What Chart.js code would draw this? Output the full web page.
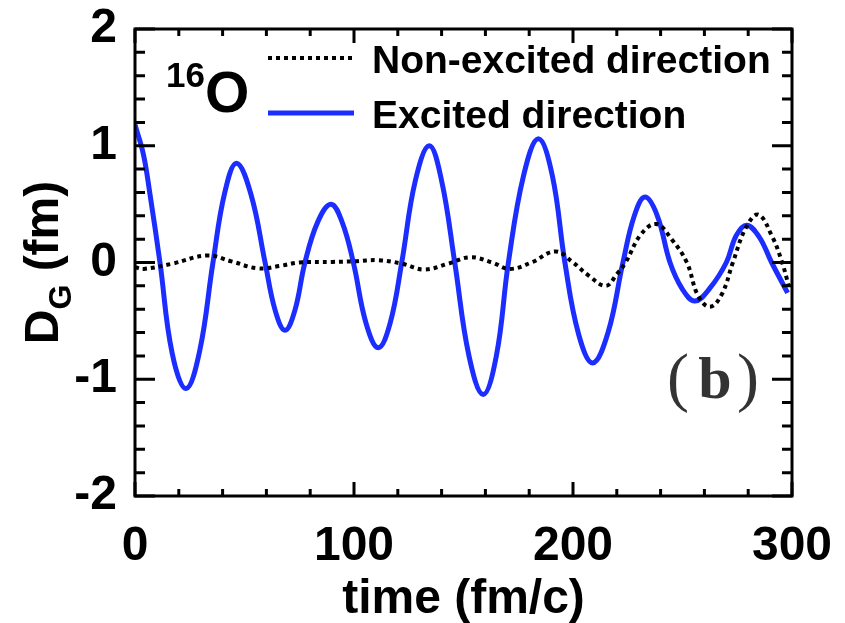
<!DOCTYPE html>
<html>
<head>
<meta charset="utf-8">
<script src="https://cdn.jsdelivr.net/npm/chart.js@4.4.1/dist/chart.umd.min.js"></script>
<style>
  html, body { margin: 0; padding: 0; background: #fff; }
  #wrap { width: 845px; height: 623px; }
</style>
</head>
<body>
<div id="wrap"><canvas id="dgChart" width="845" height="623"></canvas></div>
<script>
// values (time in fm/c, D_G in fm)
const excitedTimes = [0, 3.8, 6.8, 11.4, 17, 23.3, 29.5, 35.6, 41, 46.4, 53, 59.4, 64, 68.5, 73, 77.6, 83.5, 89.5, 94.5, 99.7,
  105.5, 111.1, 116.5, 121.8, 128, 134.4, 140, 146, 152.5, 159, 165, 170.5, 177.5, 184.2, 190.5, 196.3,
  202.5, 209, 216, 222.8, 228, 232.9, 238.5, 244.3, 250, 255.7, 262.5, 270, 274.5, 279.3, 285, 290.7, 298];
const excitedValues = [1.18, 0.93, 0.59, 0, -0.78, -1.08, -0.76, 0, 0.6, 0.85, 0.58, 0, -0.41, -0.58, -0.41, 0, 0.35, 0.50, 0.35, 0,
  -0.52, -0.73, -0.52, 0, 0.7, 1.0, 0.7, 0, -0.8, -1.13, -0.8, 0, 0.75, 1.06, 0.75, 0,
  -0.61, -0.86, -0.6, 0, 0.4, 0.56, 0.4, 0, -0.23, -0.33, -0.22, 0, 0.23, 0.32, 0.22, 0, -0.26];

const nonExcitedTimes = [0, 4, 17, 33, 44, 56, 66, 75, 90, 100, 111, 122, 132, 143, 153, 163, 171, 181, 192,
  200, 207, 215, 220, 224, 231, 238, 245, 252, 257, 262.5, 268, 273, 279, 284.6, 291, 295.5, 298.5];
const nonExcitedValues = [-0.04, -0.055, -0.01, 0.06, 0.01, -0.05, -0.03, 0, 0.005, 0.01, 0.02, -0.01, -0.06, -0.01, 0.045, 0, -0.055, 0, 0.095,
  0, -0.11, -0.2, -0.1, 0, 0.24, 0.33, 0.2, 0, -0.28, -0.38, -0.27, 0, 0.3, 0.41, 0.22, 0, -0.2];

const xTickLabels = [0, 100, 200, 300];
const yTickLabels = [-2, -1, 0, 1, 2];

const blue = '#1c2dff';
const sans = '"Liberation Sans", Arial, sans-serif';
const boldFont = 'bold 48px ' + sans;

// frame, inner ticks, legend and annotations
const decorations = {
  id: 'decorations',
  afterDraw(chart) {
    const ctx = chart.ctx;
    const a = chart.chartArea;
    const xs = chart.scales.x, ys = chart.scales.y;
    ctx.save();
    ctx.strokeStyle = '#000';
    ctx.lineWidth = 3;
    ctx.lineCap = 'butt';
    ctx.beginPath();
    // x ticks every 20, major every 100
    for (let t = 0; t <= 300; t += 20) {
      const px = xs.getPixelForValue(t);
      const len = t % 100 === 0 ? 14 : 7;
      ctx.moveTo(px, a.bottom); ctx.lineTo(px, a.bottom - len);
      ctx.moveTo(px, a.top); ctx.lineTo(px, a.top + len);
    }
    // y ticks every 0.2, major every 1
    for (let i = -10; i <= 10; i++) {
      const py = ys.getPixelForValue(i / 5);
      const len = i % 5 === 0 ? 20 : 10;
      ctx.moveTo(a.left, py); ctx.lineTo(a.left + len, py);
      ctx.moveTo(a.right, py); ctx.lineTo(a.right - len, py);
    }
    ctx.stroke();
    ctx.strokeRect(a.left, a.top, a.right - a.left, a.bottom - a.top);

    // legend
    const ds = chart.data.datasets;
    const legendRows = [{ ds: ds[0], y: 58, textY: 73 }, { ds: ds[1], y: 113, textY: 128 }];
    legendRows.forEach(r => {
      ctx.beginPath();
      ctx.strokeStyle = r.ds.borderColor;
      ctx.lineWidth = r.ds.borderWidth;
      ctx.setLineDash(r.ds.borderDash || []);
      ctx.moveTo(268, r.y); ctx.lineTo(354, r.y);
      ctx.stroke();
      ctx.setLineDash([]);
      ctx.fillStyle = '#000';
      ctx.font = 'bold 39px ' + sans;
      ctx.textAlign = 'left';
      ctx.textBaseline = 'alphabetic';
      ctx.fillText(r.ds.label, 372, r.textY);
    });

    // nucleus label
    ctx.fillStyle = '#000';
    ctx.font = 'bold 35px ' + sans;
    ctx.fillText('16', 166, 87);
    ctx.font = 'bold 57px ' + sans;
    ctx.fillText('O', 205, 112);

    // panel label
    const serif = '"Liberation Serif", "Times New Roman", serif';
    ctx.fillStyle = '#333';
    ctx.font = '66px ' + serif;
    ctx.textAlign = 'left';
    ctx.fillText('(', 667, 399);
    ctx.textAlign = 'right';
    ctx.fillText(')', 759, 399);
    ctx.font = 'bold 60px ' + serif;
    ctx.textAlign = 'center';
    ctx.fillText('b', 715, 398);

    // y axis title with subscript
    ctx.save();
    ctx.translate(58, (a.top + a.bottom) / 2);
    ctx.rotate(-Math.PI / 2);
    ctx.fillStyle = '#000';
    ctx.textAlign = 'left';
    const small = 'bold 32px ' + sans;
    ctx.font = boldFont; const wD = ctx.measureText('D').width;
    ctx.font = small; const wG = ctx.measureText('G').width;
    ctx.font = boldFont; const wR = ctx.measureText(' (fm)').width;
    const x0 = -(wD + wG + wR) / 2;
    ctx.font = boldFont; ctx.fillText('D', x0, 0);
    ctx.font = small; ctx.fillText('G', x0 + wD, 13);
    ctx.font = boldFont; ctx.fillText(' (fm)', x0 + wD + wG, 0);
    ctx.restore();
    ctx.restore();
  }
};

new Chart(document.getElementById('dgChart'), {
  type: 'line',
  data: {
    datasets: [{
      label: 'Non-excited direction',
      data: nonExcitedTimes.map((t, i) => ({ x: t, y: nonExcitedValues[i] })),
      borderColor: '#000',
      borderWidth: 4,
      borderDash: [4, 4],
      pointRadius: 0,
      tension: 0.4,
      fill: false,
    }, {
      label: 'Excited direction',
      data: excitedTimes.map((t, i) => ({ x: t, y: excitedValues[i] })),
      borderColor: blue,
      borderWidth: 5,
      pointRadius: 0,
      tension: 0.4,
      fill: false,
    }]
  },
  options: {
    responsive: false,
    animation: false,
    events: [],
    layout: { padding: { left: 0, right: 53, top: 29, bottom: 0 } },
    plugins: { legend: { display: false }, tooltip: { enabled: false } },
    scales: {
      x: {
        type: 'linear',
        min: 0, max: 300,
        afterBuildTicks: (scale) => { scale.ticks = xTickLabels.map(v => ({ value: v })); },
        afterFit: (scale) => { scale.height = 127; scale.paddingLeft = 0; scale.paddingRight = 0; },
        grid: { display: false, drawTicks: false },
        border: { display: false },
        ticks: { color: '#000', font: { family: sans, size: 48, weight: 'bold' }, padding: 22, maxRotation: 0 },
        title: { display: true, text: 'time (fm/c)', color: '#000', font: { family: sans, size: 48, weight: 'bold', lineHeight: 0.95 }, padding: { top: 0, bottom: 0 } }
      },
      y: {
        min: -2, max: 2,
        afterBuildTicks: (scale) => { scale.ticks = yTickLabels.map(v => ({ value: v })); },
        afterFit: (scale) => { scale.width = 135; scale.paddingTop = 0; scale.paddingBottom = 0; },
        grid: { display: false, drawTicks: false },
        border: { display: false },
        ticks: { color: '#000', font: { family: sans, size: 48, weight: 'bold' }, padding: 18 }
      }
    }
  },
  plugins: [decorations]
});
</script>
</body>
</html>
